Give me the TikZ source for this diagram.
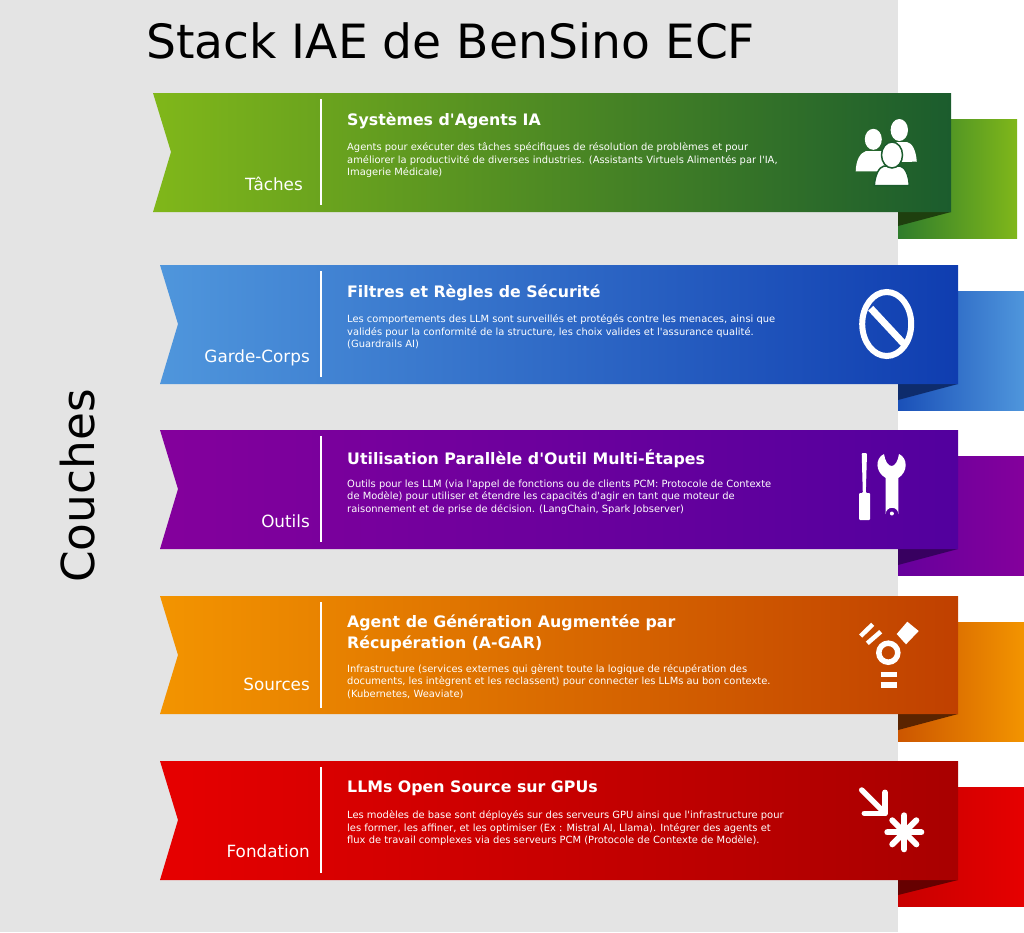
\documentclass[tikz,border=0pt]{standalone}
\usepackage{fontspec}
\defaultfontfeatures[\rmfamily]{}
\setmainfont{DejaVu Sans}
\definecolor{panel}{HTML}{E4E4E4}
\definecolor{greenA}{HTML}{80B71A}
\definecolor{greenB}{HTML}{1B5C2D}
\definecolor{greenC}{HTML}{2F7D2C}
\definecolor{greenD}{HTML}{1E3F0E}
\definecolor{blueA}{HTML}{4F96DC}
\definecolor{blueB}{HTML}{0F3DB0}
\definecolor{blueC}{HTML}{1A50B8}
\definecolor{blueD}{HTML}{0E2C6C}
\definecolor{purpleA}{HTML}{84009C}
\definecolor{purpleB}{HTML}{52009E}
\definecolor{purpleC}{HTML}{66009C}
\definecolor{purpleD}{HTML}{380060}
\definecolor{orangeA}{HTML}{F39400}
\definecolor{orangeB}{HTML}{C04000}
\definecolor{orangeC}{HTML}{CC5600}
\definecolor{orangeD}{HTML}{5A2400}
\definecolor{redA}{HTML}{E60000}
\definecolor{redB}{HTML}{A80000}
\definecolor{redC}{HTML}{C80000}
\definecolor{redD}{HTML}{660000}
\begin{document}
\begin{tikzpicture}[x=1pt,y=-1pt,
    layer/.style={text=white,font=\fontsize{16.8}{18}\selectfont,anchor=base east,inner sep=0pt},
    headline/.style={text=white,font=\fontsize{15.8}{20.5}\selectfont\bfseries,anchor=north west,align=left,inner sep=0pt},
    blurb/.style={text=white,font=\fontsize{9.92}{12.6}\selectfont,anchor=north west,align=left,inner sep=0pt},
    divider/.style={white,line width=2.5pt},
    icon/.style={fill=white,draw=none},
    iconline/.style={white,line width=5.5pt}]
    \useasboundingbox(0,0)rectangle(1024,932);
    \fill[panel](0,0)rectangle(898,932);
    \node[anchor=base west,inner sep=0pt,font=\fontsize{47.2}{50}\selectfont](title)at(146,58){Stack IAE de BenSino ECF};
    \node[rotate=90,inner sep=0pt,font=\fontsize{45.4}{50}\selectfont](couches)at(78,486){Couches};
    % Taches
    \shade[left color=greenC,right color=greenA](898,119)rectangle(1017,238);
    \fill[greenD](898,212)--(951,212)--(898,226)--cycle;
    \shade[left color=greenA,right color=greenB](153,93)--(951,93)--(951,212)--(153,212)--(171,152)--cycle;
    \coordinate(divA)at(321,99);
    \coordinate(divB)at(321,205);
    \draw[divider](divA)--(divB);
    \node[layer](taches)at(303,190){Tâches};
    \node[headline](titleA)at(347,112.5){Systèmes d'Agents IA};
    \node[blurb](textA)at(347,142.5){Agents pour exécuter des tâches spécifiques de résolution de problèmes et pour\\améliorer la productivité de diverses industries. (Assistants Virtuels Alimentés par l'IA,\\Imagerie Médicale)};
    \draw[icon](916.8,161.7)..controls(916,150)and(912,143)..(907,142)--(892,142)..controls(886,145)and(884,152)..(884,162)--cycle;
    \fill[white](899.3,130)ellipse[x radius=8.7,y radius=11];
    \draw[icon](855.7,171.3)..controls(856,160)and(860,153)..(866,151)--(881,151)..controls(887,153)and(890,160)..(890,171.3)--cycle;
    \fill[white](873.3,139.3)ellipse[x radius=8.5,y radius=10.5];
    \draw[greenB,fill=white,line width=1.5pt](874.3,185.6)..controls(875,175)and(879,167)..(884,166)--(900,166)..controls(905,167)and(909,175)..(909.2,185.6)--cycle;
    \draw[greenB,fill=white,line width=1.5pt](892,155)ellipse[x radius=10.5,y radius=13];
    % Garde-Corps
    \shade[left color=blueC,right color=blueA](898,291)rectangle(1024,410);
    \fill[blueD](898,384)--(958,384)--(898,400)--cycle;
    \shade[left color=blueA,right color=blueB](160,265)--(958,265)--(958,384)--(160,384)--(178,324)--cycle;
    \coordinate(divC)at(321,271);
    \coordinate(divD)at(321,377);
    \draw[divider](divC)--(divD);
    \node[layer](garde)at(310,362){Garde-Corps};
    \node[headline](titleB)at(347,284.5){Filtres et Règles de Sécurité};
    \node[blurb](textB)at(347,314.5){Les comportements des LLM sont surveillés et protégés contre les menaces, ainsi que\\validés pour la conformité de la structure, les choix valides et l'assurance qualité.\\(Guardrails AI)};
    \draw[white,line width=6pt](886.7,324)ellipse[x radius=24.5,y radius=32];
    \draw[white,line width=7pt](870.7,308.3)--(903.3,343.3);
    % Outils
    \shade[left color=purpleC,right color=purpleA](898,456)rectangle(1024,575);
    \fill[purpleD](898,549)--(958,549)--(898,565)--cycle;
    \shade[left color=purpleA,right color=purpleB](160,430)--(958,430)--(958,549)--(160,549)--(178,489)--cycle;
    \coordinate(divE)at(321,436);
    \coordinate(divF)at(321,542);
    \draw[divider](divE)--(divF);
    \node[layer](outils)at(310,527){Outils};
    \node[headline](titleC)at(347,449.5){Utilisation Parallèle d'Outil Multi-Étapes};
    \node[blurb](textC)at(347,479.5){Outils pour les LLM (via l'appel de fonctions ou de clients PCM: Protocole de Contexte\\de Modèle) pour utiliser et étendre les capacités d'agir en tant que moteur de\\raisonnement et de prise de décision. (LangChain, Spark Jobserver)};
    \fill[white,rounded corners=1pt](861.7,453)--(867,453)--(865.8,493)--(870,493)--(870,520)--(859,520)--(859,493)--(862.8,493)--cycle;
    \fill[white,even odd rule](884,454)..controls(875,458)and(875,472)..(885.7,478)--(885.7,514)arc[start angle=180,end angle=360,radius=6.3]--(898.3,478)..controls(908,472)and(908,458)..(899,454)..controls(898,461)and(895,466)..(891.7,466)..controls(888,466)and(885,461)..(884,454)--cycle
      (891.9,513.5)circle[radius=2];
    % Sources
    \shade[left color=orangeC,right color=orangeA](898,622)rectangle(1024,741);
    \fill[orangeD](898,714)--(958,714)--(898,730)--cycle;
    \shade[left color=orangeA,right color=orangeB](160,596)--(958,596)--(958,714)--(160,714)--(178,655)--cycle;
    \coordinate(divG)at(321,602);
    \coordinate(divH)at(321,708);
    \draw[divider](divG)--(divH);
    \node[layer](sources)at(310,690){Sources};
    \node[headline](titleD)at(347,615){Agent de Génération Augmentée par\\Récupération (A-GAR)};
    \node[blurb](textD)at(347,664){Infrastructure (services externes qui gèrent toute la logique de récupération des\\documents, les intègrent et les reclassent) pour connecter les LLMs au bon contexte.\\(Kubernetes, Weaviate)};
    \draw[white,line width=5.5pt](888.3,652.7)circle[radius=9.5];
    \fill[white](907.3,621.7)--(918.7,631)--(906,644.3)--(896.7,634)--cycle;
    \draw[iconline,line width=4.5pt](860.7,636)--(872.7,624.3) (867.3,643.3)--(880.7,631.7);
    \draw[iconline](880.7,674.5)--(897,674.5) (880.7,685)--(897,685);
    % Fondation
    \shade[left color=redC,right color=redA](898,787)rectangle(1024,906);
    \fill[redD](898,880)--(958,880)--(898,895)--cycle;
    \shade[left color=redA,right color=redB](160,761)--(958,761)--(958,880)--(160,880)--(178,820)--cycle;
    \coordinate(divI)at(321,767);
    \coordinate(divJ)at(321,873);
    \draw[divider](divI)--(divJ);
    \node[layer](fondation)at(310,857){Fondation};
    \node[headline](titleE)at(347,780.5){LLMs Open Source sur GPUs};
    \node[blurb](textE)at(347,810.5){Les modèles de base sont déployés sur des serveurs GPU ainsi que l'infrastructure pour\\les former, les affiner, et les optimiser (Ex : Mistral AI, Llama). Intégrer des agents et\\flux de travail complexes via des serveurs PCM (Protocole de Contexte de Modèle).};
    \draw[iconline,line cap=round](861.7,790)--(885,813.3);
    \draw[iconline,line cap=round,line join=round](885,792.3)--(885,813.3)--(864.3,813.3);
    \foreach \a in {0,45,90,135}
      \draw[white,line width=6pt,line cap=round](904.3,832.3)+(\a:17)--+(\a+180:17);
  \end{tikzpicture}
\end{document}
